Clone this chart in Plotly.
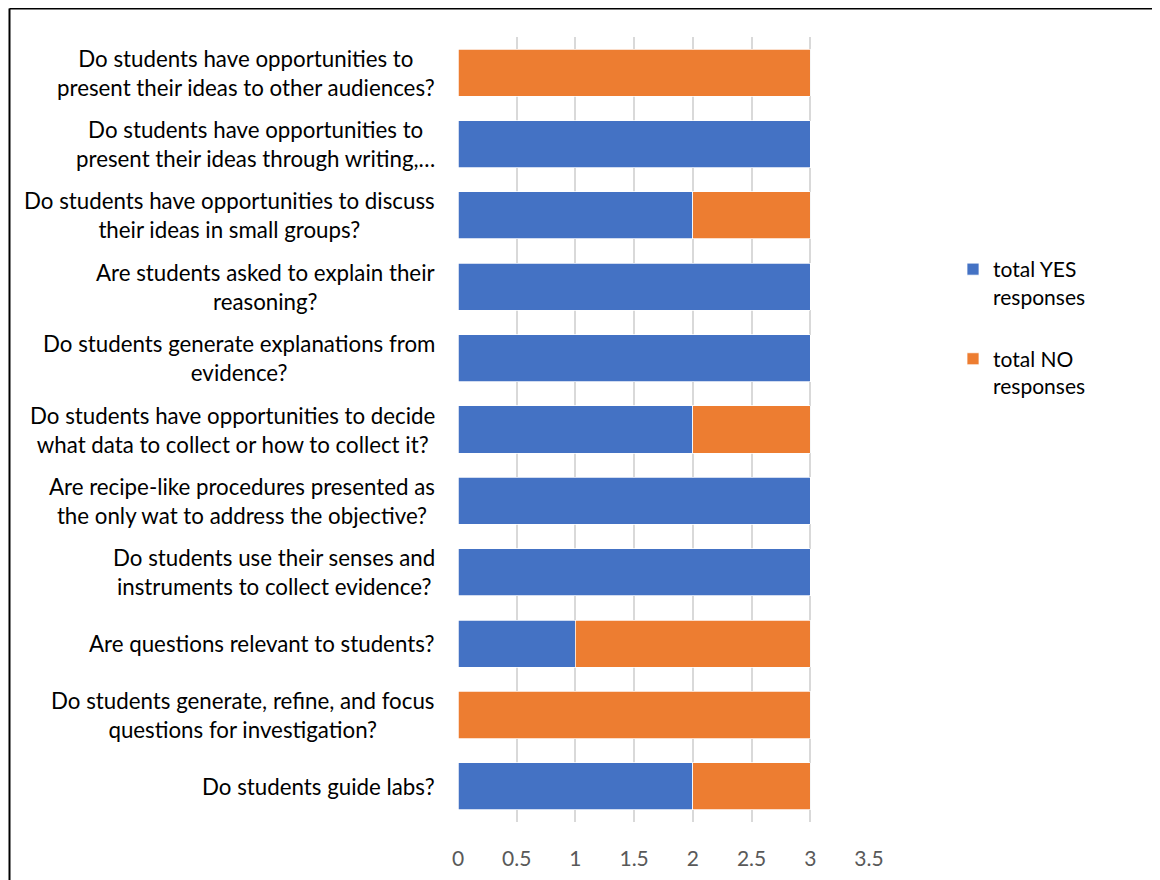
import plotly.graph_objects as go

categories = [
    "Do students have opportunities to<br>present their ideas to other audiences?",
    "Do students have opportunities to<br>present their ideas through writing,…",
    "Do students have opportunities to discuss<br>their ideas in small groups?",
    "Are students asked to explain their<br>reasoning?",
    "Do students generate explanations from<br>evidence?",
    "Do students have opportunities to decide<br>what data to collect or how to collect it?",
    "Are recipe-like procedures presented as<br>the only wat to address the objective?",
    "Do students use their senses and<br>instruments to collect evidence?",
    "Are questions relevant to students?",
    "Do students generate, refine, and focus<br>questions for investigation?",
    "Do students guide labs?",
]
yes_values = [0, 3, 2, 3, 3, 2, 3, 3, 1, 0, 2]
no_values = [3, 0, 1, 0, 0, 1, 0, 0, 2, 3, 1]
series_names = ["total YES<br>responses", "total NO<br>responses"]
x_ticks = [0, 0.5, 1, 1.5, 2, 2.5, 3, 3.5]

BLUE = "#4472C4"
ORANGE = "#ED7D31"
FONT = "Lato"

fig = go.Figure()
fig.add_trace(go.Bar(
    y=categories, x=yes_values, orientation="h", name=series_names[0],
    marker=dict(color=BLUE, line=dict(color="white", width=0.75)),
    legendgroup="yes",
))
fig.add_trace(go.Bar(
    y=categories, x=no_values, orientation="h", name=series_names[1],
    marker=dict(color=ORANGE, line=dict(color="white", width=0.75)),
    legendgroup="no",
))

# category labels as centered multi-line annotations, right-aligned block
for c in categories:
    fig.add_annotation(
        x=0, xref="paper", xanchor="right", xshift=-21,
        y=c, yref="y", yanchor="middle",
        text=c, showarrow=False, align="center",
        font=dict(family=FONT, size=22.3, color="#000000"),
    )

# page has an 8px body offset; positions below are in figure pixels
OFF = 8
W, H = 1160, 880
ML, MT = 458 - OFF, 37 - OFF
pw = 411
ph = 822 - 37
MR = W - ML - pw
MB = H - MT - ph

def px_x(p):
    return (p - OFF - ML) / pw

def px_y(p):
    return (MT + ph - (p - OFF)) / ph

# outer frame (top and left)
fig.add_shape(type="line", xref="paper", yref="paper",
              x0=px_x(9.5), x1=px_x(1175), y0=px_y(8.5), y1=px_y(8.5),
              line=dict(color="#000000", width=2))
fig.add_shape(type="line", xref="paper", yref="paper",
              x0=px_x(9.5), x1=px_x(9.5), y0=px_y(8.5), y1=px_y(895),
              line=dict(color="#000000", width=2))

fig.update_layout(
    width=W, height=H,
    margin=dict(l=ML, r=MR, t=MT, b=MB),
    barmode="stack", bargap=0.34,
    plot_bgcolor="white", paper_bgcolor="white",
    font=dict(family=FONT, size=21, color="#000000"),
    legend=dict(
        x=px_x(953), xanchor="left", y=px_y(249), yanchor="top",
        traceorder="grouped", tracegroupgap=32, valign="top",
        font=dict(family=FONT, size=21, color="#000000"),
        bgcolor="rgba(0,0,0,0)",
    ),
    xaxis=dict(
        range=[0, 3.5], tickvals=x_ticks, ticktext=[str(v) for v in x_ticks],
        showgrid=True, gridcolor="#D9D9D9", gridwidth=1.5,
        zeroline=False, showline=False,
        ticks="", ticklabelstandoff=22,
        tickfont=dict(family=FONT, size=21, color="#595959"),
    ),
    yaxis=dict(
        categoryorder="array", categoryarray=categories,
        autorange="reversed", showticklabels=False, showgrid=False,
        zeroline=False, showline=False, ticks="",
    ),
)

fig.write_html("out.html")
